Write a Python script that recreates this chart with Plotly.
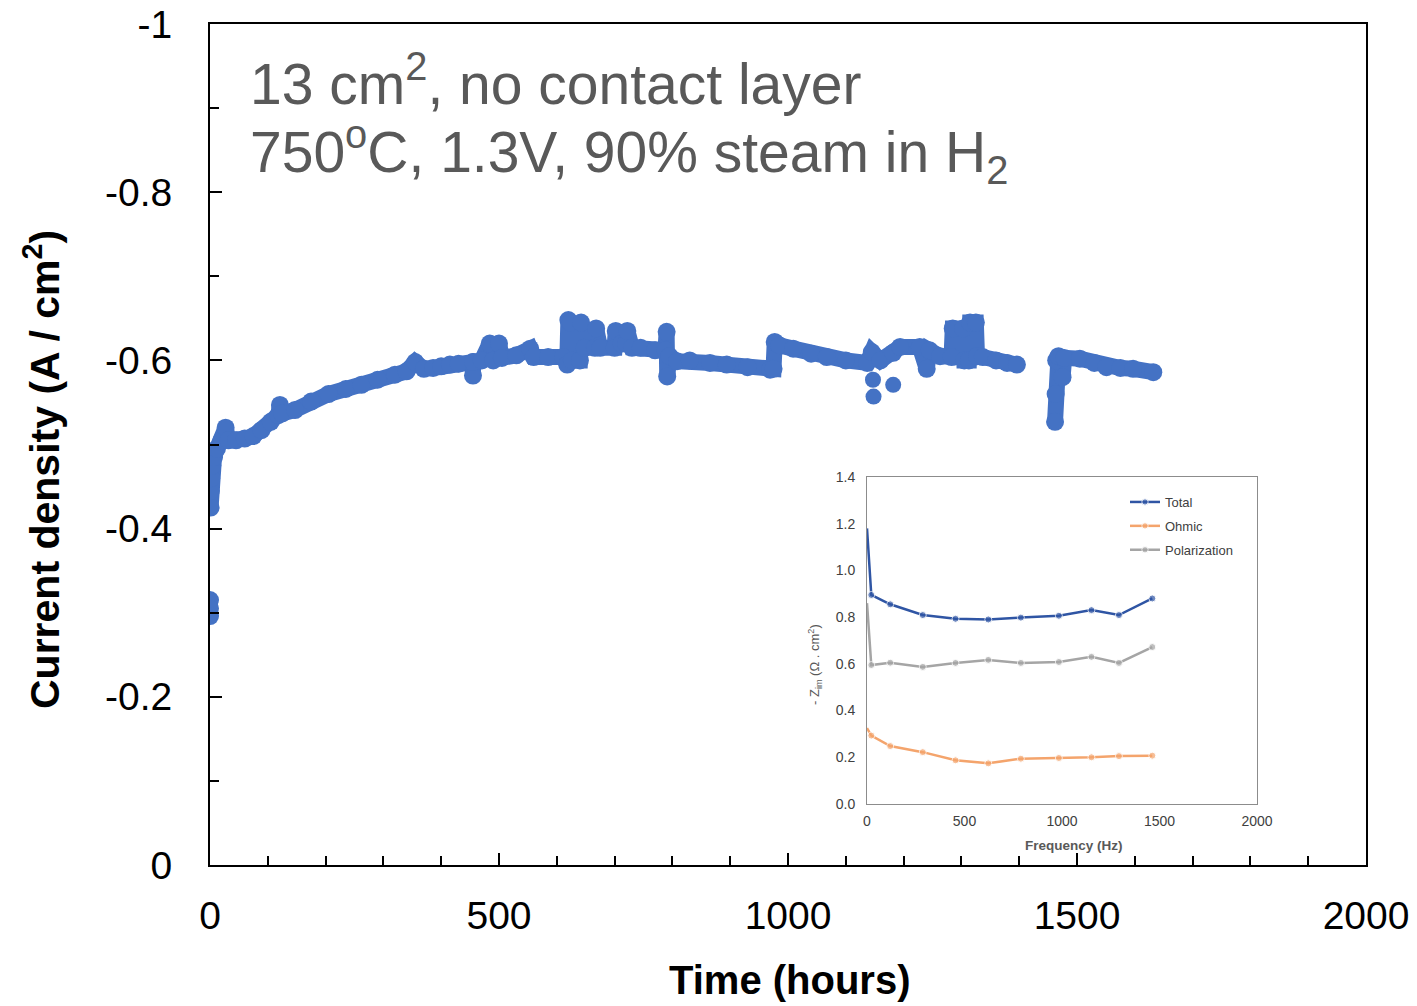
import plotly.graph_objects as go

# ---------------- main long-term test data ----------------
time_h = [0, 0, 0, None,
          1, 1.5, 2, 4, 7, 12, 20, 27, 32, 45, 60, 75, 89, 105, 118, 121, 125, 147, 175, 205,
          235, 262, 290, 320, 340, 355, 370, 386, 400, 415, 430, 455, 455, 455, 470, 484, 490,
          500, 505, 530, 554, 560, 585, 611, 618, 620, 624, 626, 640, 642, 648, 666, 668, 675,
          700, 702, 712, 720, 722, 730, 745, 770, 788, 790, 791, 795, 808, 830, 865, 894, 930,
          969, 975, 977, 985, 1009,
          1040, 1067, 1100, 1137, 1145, 1160, 1182, 1194, 1228, 1240, 1245, 1263, 1283, 1285,
          1303, 1305, 1313, 1315, 1325, 1327, 1337, 1360, 1379, 1396, None,
          1462, 1463, 1464, 1468, 1475, 1478, 1505, 1530, 1551, 1575, 1597, 1632]
current = [-0.315, -0.305, -0.296, None,
           -0.425, -0.445, -0.46, -0.475, -0.485, -0.495, -0.505, -0.52, -0.505, -0.505, -0.507,
           -0.51, -0.517, -0.527, -0.535, -0.547, -0.537, -0.541, -0.551, -0.560,
           -0.566, -0.571, -0.577, -0.583, -0.587, -0.598, -0.59, -0.591, -0.593, -0.595, -0.596,
           -0.598, -0.582, -0.598, -0.60, -0.62, -0.60,
           -0.62, -0.603, -0.606, -0.614, -0.604, -0.604, -0.604, -0.595, -0.648, -0.645, -0.60,
           -0.60, -0.645, -0.615, -0.615, -0.638, -0.615,
           -0.615, -0.635, -0.62, -0.62, -0.635, -0.615, -0.615, -0.612, -0.612, -0.634, -0.581,
           -0.605, -0.599, -0.60, -0.597, -0.595, -0.592,
           -0.589, -0.59, -0.622, -0.618, -0.614,
           -0.608, -0.604, -0.600, -0.597, -0.61, -0.60, -0.609, -0.616, -0.616, -0.59, -0.612,
           -0.605, -0.604, -0.638,
           -0.638, -0.60, -0.60, -0.645, -0.645, -0.605, -0.604, -0.60, -0.597, -0.595, None,
           -0.527, -0.56, -0.60, -0.605, -0.58, -0.603, -0.602, -0.597, -0.592, -0.591, -0.590,
           -0.586]
outlier_t = [1147, 1148, 1182]
outlier_j = [-0.577, -0.557, -0.571]

# ---------------- inset data ----------------
freq_hz = [0, 22, 119, 286, 454, 622, 789, 984, 1151, 1292, 1463]
total = [1.18, 0.895, 0.855, 0.809, 0.793, 0.79, 0.798, 0.806, 0.83, 0.809, 0.88]
ohmic = [0.325, 0.293, 0.248, 0.222, 0.187, 0.174, 0.194, 0.197, 0.2, 0.205, 0.207]
polarization = [0.86, 0.595, 0.605, 0.587, 0.604, 0.617, 0.604, 0.608, 0.63, 0.604, 0.672]

main_ticks = [0, -0.2, -0.4, -0.6, -0.8, -1]
main_tick_text = ["0", "-0.2", "-0.4", "-0.6", "-0.8", "-1"]

BLUE = "#4472C4"
FONT = "Liberation Sans, Arial, sans-serif"

fig = go.Figure()

fig.add_trace(go.Scatter(
    x=time_h, y=current, mode="lines+markers",
    line=dict(color=BLUE, width=16), marker=dict(color=BLUE, size=18),
    connectgaps=False, showlegend=False, xaxis="x", yaxis="y"))
fig.add_trace(go.Scatter(
    x=outlier_t, y=outlier_j, mode="markers",
    marker=dict(color=BLUE, size=16), showlegend=False, xaxis="x", yaxis="y"))

sizes = [0] + [7] * (len(freq_hz) - 1)
for name, vals, col in [("Total", total, "#2F55A4"),
                        ("Ohmic", ohmic, "#F4A46C"),
                        ("Polarization", polarization, "#A5A5A5")]:
    fig.add_trace(go.Scatter(
        x=freq_hz, y=vals, mode="lines+markers", name=name,
        line=dict(color=col, width=2.5), marker=dict(color=col, size=sizes),
        legendgroup=name, xaxis="x2", yaxis="y2"))

L, R, T, B = 210, 51, 24, 141
W, H = 1417, 1006
pw, ph = W - L - R, H - T - B


def px_x(p):
    return (p - L) / pw


def px_y(p):
    return (H - B - p) / ph


fig.update_layout(
    width=W, height=H,
    margin=dict(l=L, r=R, t=T, b=B, autoexpand=False),
    paper_bgcolor="white", plot_bgcolor="white",
    font=dict(family=FONT, color="black"),
    xaxis=dict(range=[0, 2000], tickvals=[0, 500, 1000, 1500, 2000], automargin=False,
               showline=True, linecolor="black", linewidth=2, mirror=True,
               ticks="inside", ticklen=12, tickwidth=2, tickcolor="black",
               minor=dict(ticks="inside", ticklen=9, tickwidth=2, tickcolor="black", dtick=100),
               showgrid=False, zeroline=False,
               tickfont=dict(size=39, family=FONT), ticklabelstandoff=15),
    yaxis=dict(range=[0, -1], tickvals=main_ticks, ticktext=main_tick_text, automargin=False,
               showline=True, linecolor="black", linewidth=2, mirror=True,
               ticks="inside", ticklen=12, tickwidth=2, tickcolor="black",
               minor=dict(ticks="inside", ticklen=9, tickwidth=2, tickcolor="black", dtick=0.1),
               showgrid=False, zeroline=False,
               tickfont=dict(size=39, family=FONT), ticklabelstandoff=28),
    xaxis2=dict(domain=[px_x(867), px_x(1257)], anchor="y2", range=[0, 2000], automargin=False,
                tickvals=[0, 500, 1000, 1500, 2000],
                showline=True, linecolor="#8c8c8c", linewidth=1, mirror=True,
                ticks="", showgrid=False, zeroline=False,
                tickfont=dict(size=14, color="#404040", family=FONT), ticklabelstandoff=4),
    yaxis2=dict(domain=[px_y(804), px_y(477)], anchor="x2", range=[0, 1.4], automargin=False,
                tickvals=[0, 0.2, 0.4, 0.6, 0.8, 1.0, 1.2, 1.4], tickformat=".1f",
                showline=True, linecolor="#8c8c8c", linewidth=1, mirror=True,
                ticks="", showgrid=False, zeroline=False,
                tickfont=dict(size=14, color="#404040", family=FONT), ticklabelstandoff=8),
    legend=dict(x=px_x(1125), y=px_y(487), xanchor="left", yanchor="top",
                bgcolor="rgba(0,0,0,0)", font=dict(size=13, color="#404040", family=FONT),
                traceorder="grouped", tracegroupgap=4, itemwidth=30),
    showlegend=True,
)

annotations = [
    dict(text="13 cm<sup>2</sup>, no contact layer", x=px_x(248), y=px_y(80),
         xanchor="left", yanchor="middle", font=dict(size=57, color="#595959")),
    dict(text="750<sup>o</sup>C, 1.3V, 90% steam in H<sub>2</sub>", x=px_x(248), y=px_y(152),
         xanchor="left", yanchor="middle", font=dict(size=57, color="#595959")),
    dict(text="<b>Time (hours)</b>", x=px_x(790), y=px_y(980),
         xanchor="center", yanchor="middle", font=dict(size=40, color="black")),
    dict(text="<b>Current density (A / cm<sup>2</sup>)</b>", x=px_x(42), y=px_y(470),
         xanchor="center", yanchor="middle", textangle=-90, font=dict(size=41, color="black")),
    dict(text="<b>Frequency (Hz)</b>", x=px_x(1074), y=px_y(845),
         xanchor="center", yanchor="middle", font=dict(size=13.5, color="#595959")),
    dict(text="- Z<sub>im</sub> (Ω . cm<sup>2</sup>)", x=px_x(815), y=px_y(665),
         xanchor="center", yanchor="middle", textangle=-90, font=dict(size=13, color="#595959")),
]
for a in annotations:
    a.update(xref="paper", yref="paper", showarrow=False)
    a["font"]["family"] = FONT
fig.update_layout(annotations=annotations)

fig.write_html("out.html")
